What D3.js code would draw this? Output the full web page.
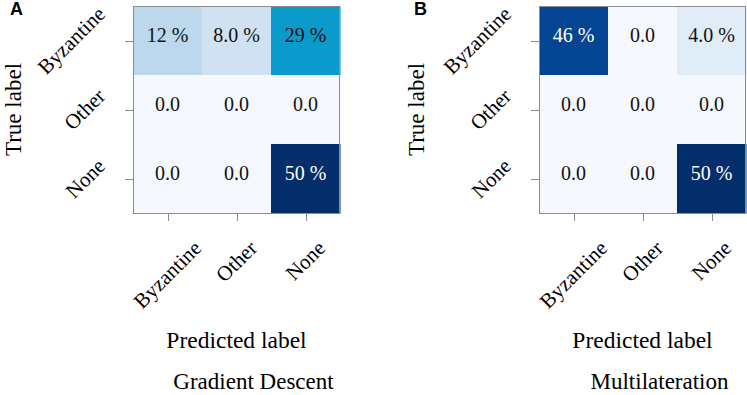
<!DOCTYPE html>
<html lang="en">
<head>
    <meta charset="UTF-8">
    <title>Confusion matrices</title>
    <script src="https://d3js.org/d3.v7.min.js"></script>
    <style>
        body {margin: 0; background: white;}
        text {font-family: "Liberation Serif", "Times New Roman", serif;}
        .panel-letter {font-family: "Liberation Sans", Arial, sans-serif; font-weight: bold;}
    </style>
</head>
<body>
<script>
    const width = 747;
    const height = 395;

    // classes (rows = true label, columns = predicted label)
    const classes = ["Byzantine", "Other", "None"];
    // percentages
    const gradientDescent = [
        [12, 8, 29],
        [0, 0, 0],
        [0, 0, 50]
    ];
    const multilateration = [
        [46, 0, 4],
        [0, 0, 0],
        [0, 0, 50]
    ];
    const panelLetters = ["A", "B"];
    const panelTitles = ["Gradient Descent", "Multilateration"];

    // colour stops (Blues-like map)
    const color = d3.scaleLinear()
        .domain([0, 4, 8, 12, 29, 46, 50])
        .range(["#f5f9fe", "#e0ecf8", "#d0e2f2", "#bcd8ec", "#0a9acb", "#034592", "#042d6b"])
        .clamp(true);

    const fmt = v => v === 0 ? "0.0" : (v < 10 ? v.toFixed(1) + " %" : v + " %");

    const svg = d3.select("body").append("svg")
        .attr("width", width).attr("height", height);

    const panels = [
        {data: gradientDescent, x0: 133, letterX: 10, ylabX: 21, title: panelTitles[0], letter: panelLetters[0]},
        {data: multilateration, x0: 539, letterX: 414, ylabX: 424, title: panelTitles[1], letter: panelLetters[1]}
    ];

    const size = 207;
    const topY = 6;

    panels.forEach(p => drawPanel(p));

    function drawPanel(p) {
        const g = svg.append("g");
        const x = d3.scaleBand().domain(classes).range([p.x0, p.x0 + size]);
        const y = d3.scaleBand().domain(classes).range([topY, topY + size]);

        const cells = [];
        p.data.forEach((row, i) => row.forEach((v, j) => cells.push({t: classes[i], p: classes[j], v: v})));

        g.selectAll("rect.cell")
            .data(cells)
            .enter()
            .append("rect")
            .attr("class", "cell")
            .attr("x", d => x(d.p))
            .attr("y", d => y(d.t))
            .attr("width", x.bandwidth() + 0.5)
            .attr("height", y.bandwidth() + 0.5)
            .style("fill", d => color(d.v));

        g.selectAll("text.val")
            .data(cells)
            .enter()
            .append("text")
            .attr("class", "val")
            .attr("x", d => x(d.p) + x.bandwidth() / 2)
            .attr("y", d => y(d.t) + y.bandwidth() / 2 + 1.5)
            .attr("text-anchor", "middle")
            .style("font-size", "20px")
            .style("fill", d => d.v > 40 ? "white" : "#111")
            .text(d => fmt(d.v));

        // frame
        g.append("rect")
            .attr("x", p.x0 + 0.5).attr("y", topY + 0.5)
            .attr("width", size - 1).attr("height", size)
            .style("fill", "none")
            .style("stroke", "#8c8c8c")
            .style("stroke-width", 1);

        // ticks
        const tickColor = "#8c8c8c";
        g.selectAll("line.ytick")
            .data(classes).enter().append("line")
            .attr("x1", p.x0 - 8).attr("x2", p.x0)
            .attr("y1", d => Math.round(y(d) + y.bandwidth() / 2) + 0.5)
            .attr("y2", d => Math.round(y(d) + y.bandwidth() / 2) + 0.5)
            .style("stroke", tickColor);
        g.selectAll("line.xtick")
            .data(classes).enter().append("line")
            .attr("y1", topY + size).attr("y2", topY + size + 8)
            .attr("x1", d => Math.round(x(d) + x.bandwidth() / 2) + 0.5)
            .attr("x2", d => Math.round(x(d) + x.bandwidth() / 2) + 0.5)
            .style("stroke", tickColor);

        // rotated tick labels, bounding box placed like matplotlib
        classes.forEach(c => {
            const lg = g.append("g");
            lg.append("text")
                .attr("text-anchor", "middle")
                .attr("dominant-baseline", "central")
                .attr("transform", "rotate(-45)")
                .style("font-size", "21px")
                .text(c);
            const bb = lg.node().getBBox();
            const cx = p.x0 - 23 - bb.width / 2;
            const cy = y(c) + y.bandwidth() / 2;
            lg.attr("transform", `translate(${cx - (bb.x + bb.width / 2)},${cy - (bb.y + bb.height / 2)})`);

            const lx = g.append("g");
            lx.append("text")
                .attr("text-anchor", "middle")
                .attr("dominant-baseline", "central")
                .attr("transform", "rotate(-45)")
                .style("font-size", "21px")
                .text(c);
            const bx = lx.node().getBBox();
            const tx = x(c) + x.bandwidth() / 2;
            const ty = 236 + bx.height / 2;
            lx.attr("transform", `translate(${tx - (bx.x + bx.width / 2)},${ty - (bx.y + bx.height / 2)})`);
        });

        // axis labels
        g.append("text")
            .attr("transform", `translate(${p.ylabX},${topY + size / 2}) rotate(-90)`)
            .attr("text-anchor", "middle")
            .style("font-size", "23px")
            .text("True label");

        g.append("text")
            .attr("x", p.x0 + size / 2)
            .attr("y", 348)
            .attr("text-anchor", "middle")
            .style("font-size", "23.5px")
            .text("Predicted label");

        g.append("text")
            .attr("x", p.x0 + size / 2 + 17)
            .attr("y", 389)
            .attr("text-anchor", "middle")
            .style("font-size", "23px")
            .text(p.title);

        g.append("text")
            .attr("class", "panel-letter")
            .attr("x", p.letterX)
            .attr("y", 15)
            .style("font-size", "18px")
            .text(p.letter);
    }
</script>
</body>
</html>
